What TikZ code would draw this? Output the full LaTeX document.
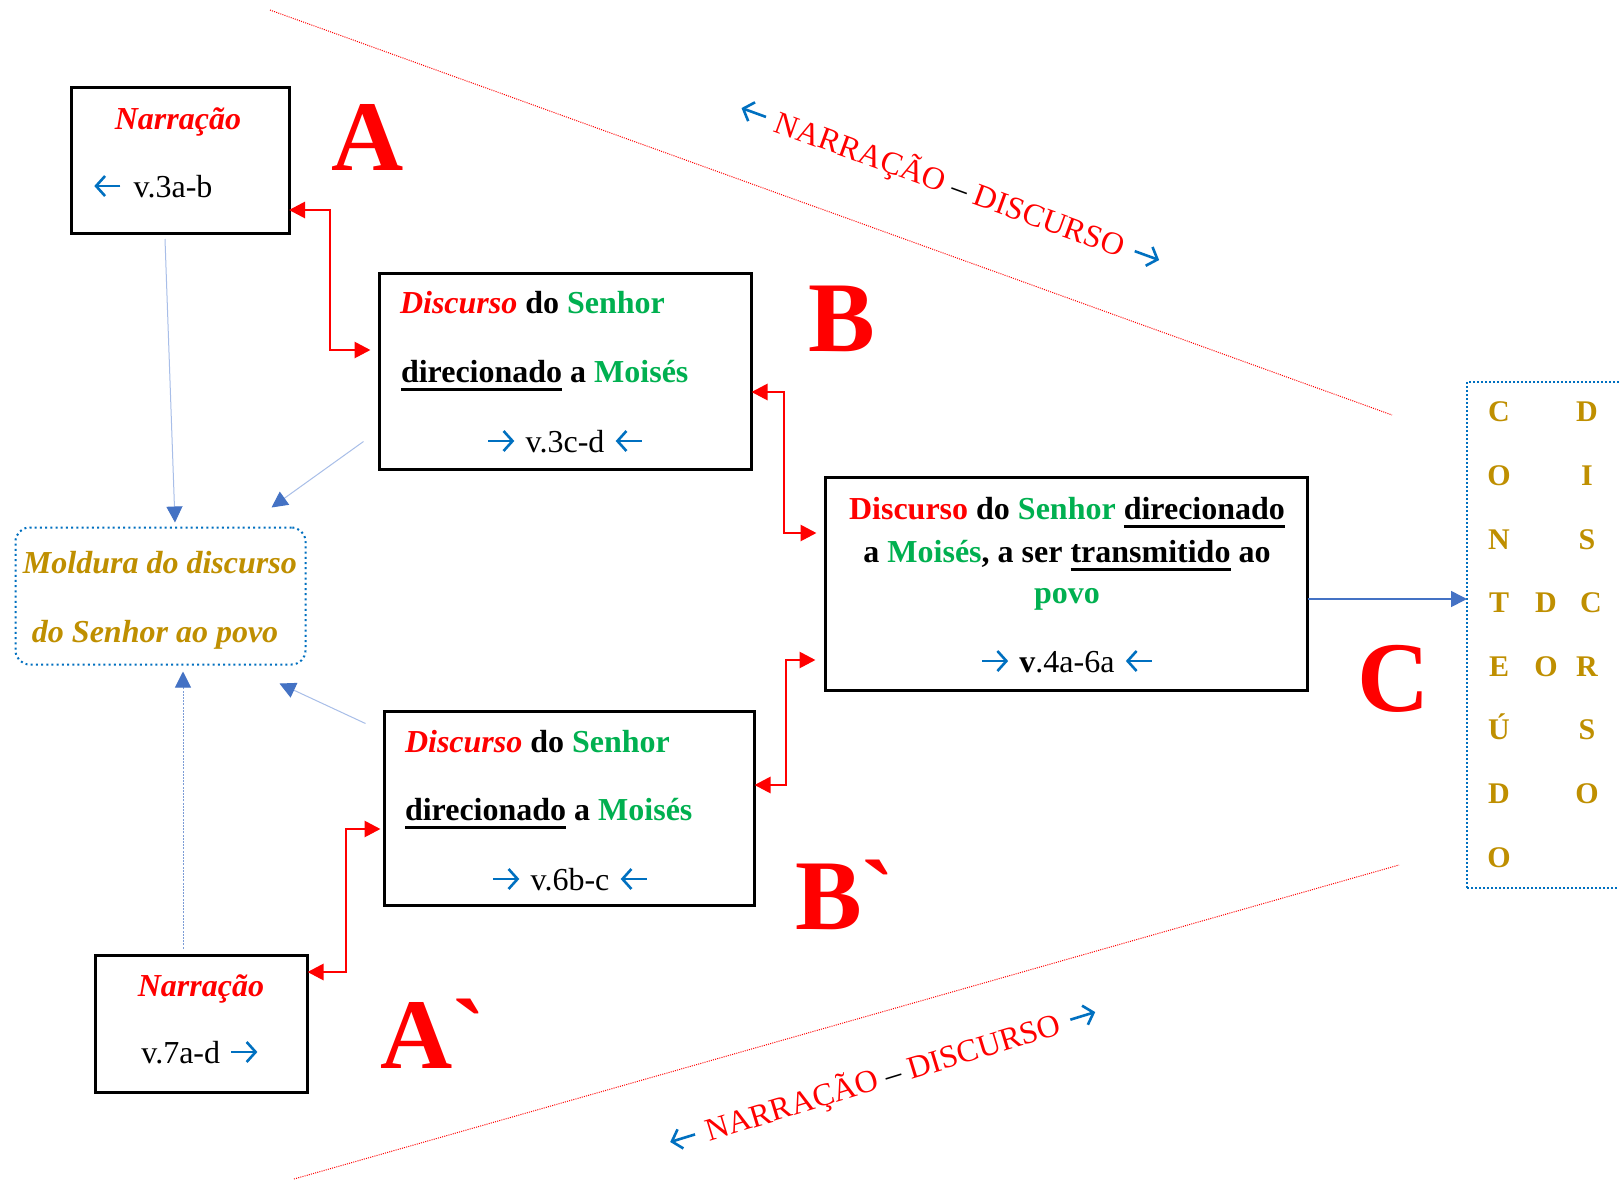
\documentclass[tikz,border=0pt]{standalone}
\usepackage{fontspec}
\setmainfont{Liberation Serif}
\newfontfamily\bigfont[Ligatures=TeXOff]{Liberation Serif}
\usetikzlibrary{arrows.meta,calc}
\definecolor{myred}{RGB}{255,0,0}
\definecolor{mygreen}{RGB}{0,176,80}
\definecolor{myblue}{RGB}{0,112,192}
\definecolor{linkblue}{RGB}{68,114,196}
\definecolor{paleblue}{RGB}{168,190,232}
\definecolor{gold}{RGB}{191,143,0}
\newcommand\myR{\tikz[x=1pt,y=1pt,baseline=-5.5pt]\draw[myblue,line width=1.3pt,-{Straight Barb[length=4.5pt,width=10pt]}] (0,0)--(13pt,0);}
\newcommand\myL{\tikz[x=1pt,y=1pt,baseline=-5.5pt]\draw[myblue,line width=1.3pt,-{Straight Barb[length=4.5pt,width=10pt]}] (13pt,0)--(0,0);}
\newcommand\myul[1]{\leavevmode\setbox0=\hbox{#1}\rlap{\rule[-4.4pt]{\wd0}{1.5pt}}\box0\relax}
\begin{document}
\begin{tikzpicture}[x=0.5pt,y=-0.5pt,
  every node/.style={inner sep=0pt,outer sep=0pt},
  box/.style={draw,line width=1.5pt,rectangle},
  frame/.style={draw=myblue,line width=1pt,dash pattern=on 1pt off 1.6pt},
  txt/.style={anchor=base,font=\fontsize{16pt}{19pt}\selectfont},
  txtw/.style={anchor=base west,font=\fontsize{16pt}{19pt}\selectfont},
  big/.style={anchor=base,text=myred,font=\bigfont\bfseries\fontsize{50pt}{50pt}\selectfont},
  gl/.style={anchor=base,text=gold,font=\bfseries\fontsize{15pt}{18pt}\selectfont},
  redarr/.style={draw=myred,line width=1.4pt,arrows={Triangle[length=8pt,width=8pt]-Triangle[length=8pt,width=8pt]}},
  thinarr/.style={draw=paleblue,line width=0.5pt,arrows={-Triangle[length=8pt,width=8pt,color=linkblue]}},
  mainarr/.style={draw=linkblue,line width=0.8pt,arrows={-Triangle[length=8pt,width=8pt]}},
  reddot/.style={draw=myred,line width=0.5pt,dash pattern=on 0.5pt off 0.6pt},
  diag/.style={anchor=center,font=\fontsize{16pt}{19pt}\selectfont}
]
\path[fill=white,use as bounding box] (0,0) rectangle (1619,1184);

% red dotted guide lines
\coordinate (t0) at (270,10);
\coordinate (t1) at (1392,415);
\coordinate (u0) at (294,1179);
\coordinate (u1) at (1399,865);
\draw[reddot] (t0) -- (t1);
\draw[reddot] (u0) -- (u1);

% boxes
\node[box,minimum width=109pt,minimum height=73pt] (nA) at (180,160) {};
\node[box,minimum width=186pt,minimum height=98pt] (nB) at (565.5,371.5) {};
\node[box,minimum width=241pt,minimum height=106.5pt] (nC) at (1066.5,584) {};
\node[box,minimum width=185pt,minimum height=97pt] (nB2) at (569.5,808.5) {};
\node[box,minimum width=106pt,minimum height=68.5pt] (nA2) at (201.5,1024) {};
\node[frame,rounded corners=7pt,minimum width=145pt,minimum height=68.5pt] (nM) at (160.5,596) {};
\node[draw=myblue,line width=1pt,dash pattern=on 1pt off 1pt,minimum width=91.5pt,minimum height=253pt] (nR) at (1558.5,635) {};

% texts in box A
\node[txt] (a1) at (178,129) {\textcolor{myred}{\textbf{\textit{Narração}}}};
\node[txtw] (a2) at (93,197) {\myL\hspace{6pt}v.3a-b};
% box B
\node[txtw] (b1) at (400,313) {\textcolor{myred}{\textbf{\textit{Discurso}}} \textbf{do} \textcolor{mygreen}{\textbf{Senhor}}};
\node[txtw] (b2) at (401,382) {\textbf{\myul{direcionado} a \textcolor{mygreen}{Moisés}}};
\node[txt] (b3) at (565,452) {\myR\hspace{5pt}v.3c-d\hspace{5pt}\myL};
% box C
\node[txt] (c1) at (1067,519) {\textbf{\textcolor{myred}{Discurso} do \textcolor{mygreen}{Senhor} \myul{direcionado}}};
\node[txt] (c2) at (1067,562) {\textbf{a \textcolor{mygreen}{Moisés}, a ser \myul{transmitido} ao}};
\node[txt] (c3) at (1067,603) {\textbf{\textcolor{mygreen}{povo}}};
\node[txt] (c4) at (1067,672) {\myR\hspace{5pt}\textbf{v}.4a-6a\hspace{5pt}\myL};
% box B`
\node[txtw] (d1) at (405,752) {\textcolor{myred}{\textbf{\textit{Discurso}}} \textbf{do} \textcolor{mygreen}{\textbf{Senhor}}};
\node[txtw] (d2) at (405,820) {\textbf{\myul{direcionado} a \textcolor{mygreen}{Moisés}}};
\node[txt] (d3) at (570,890) {\myR\hspace{5pt}v.6b-c\hspace{5pt}\myL};
% box A`
\node[txt] (e1) at (201,996) {\textcolor{myred}{\textbf{\textit{Narração}}}};
\node[txt] (e2) at (200,1063) {v.7a-d\hspace{5pt}\myR};
% Moldura
\node[txtw,text=gold] (m1) at (23,573) {\textbf{\textit{Moldura do discurso}}};
\node[txtw,text=gold] (m2) at (32,642) {\textbf{\textit{do Senhor ao povo}}};

% big letters
\node[big] (LA) at (368,170) {A};
\node[big] (LB) at (842,351) {B};
\node[big] (LC) at (1394,711) {C};
\node[big,anchor=base west] (LB2) at (795,929) {B`};
\node[big,anchor=base west] (LA2) at (380,1068) {A`};

% right column letters
\foreach \x/\y/\l [count=\i] in {1499/421/C,1499/485/O,1499/549/N,1499/612/T,1499/676/E,1499/739/Ú,1499/803/D,1499/867/O,
  1546/612/D,1546/676/O,
  1587/421/D,1587/485/I,1587/549/S,1591/612/C,1587/676/R,1587/739/S,1587/803/O}
  {\node[gl] (r\i) at (\x,\y) {\l};}

% diagonal labels
\node[diag,rotate=-20] (g1) at (950,185) {\myL\hspace{5pt}\textcolor{myred}{NARRAÇÃO} – \textcolor{myred}{DISCURSO}\hspace{5pt}\myR};
\node[diag,rotate=17] (g2) at (883,1078) {\myL\hspace{5pt}\textcolor{myred}{NARRAÇÃO} – \textcolor{myred}{DISCURSO}\hspace{5pt}\myR};

% red connectors
\draw[redarr,shorten >=4.5pt] (nA.east |- 0,210) -| (330,350) -- (nB.west |- 0,350);
\draw[redarr,shorten >=4.5pt] (nB.east |- 0,392) -| (784,533) -- (nC.west |- 0,533);
\draw[redarr,shorten >=5pt] (nB2.east |- 0,785) -| (786,660) -- (nC.west |- 0,660);
\draw[redarr,shorten >=2pt] (nA2.east |- 0,972) -| (346,829) -- (nB2.west |- 0,829);

% blue connectors
\draw[thinarr] ($(nA.south)+(-15,6)$) -- ($(nM.north)+(14.5,-5)$);
\draw[thinarr] ($(nB.south west)+(-16,-28)$) -- ($(nM.north east)+(-34,-20)$);
\draw[thinarr,draw=linkblue!70,dash pattern=on 1pt off 0.6pt] ($(nA2.north)+(-18.5,-7)$) -- ($(nM.south)+(22.5,7)$);
\draw[thinarr] ($(nB2.north west)+(-19,12)$) -- ($(nM.south east)+(-26,19)$);
\draw[mainarr] (nC.east |- 0,599) -- (nR.west |- 0,599);
\end{tikzpicture}
\end{document}
